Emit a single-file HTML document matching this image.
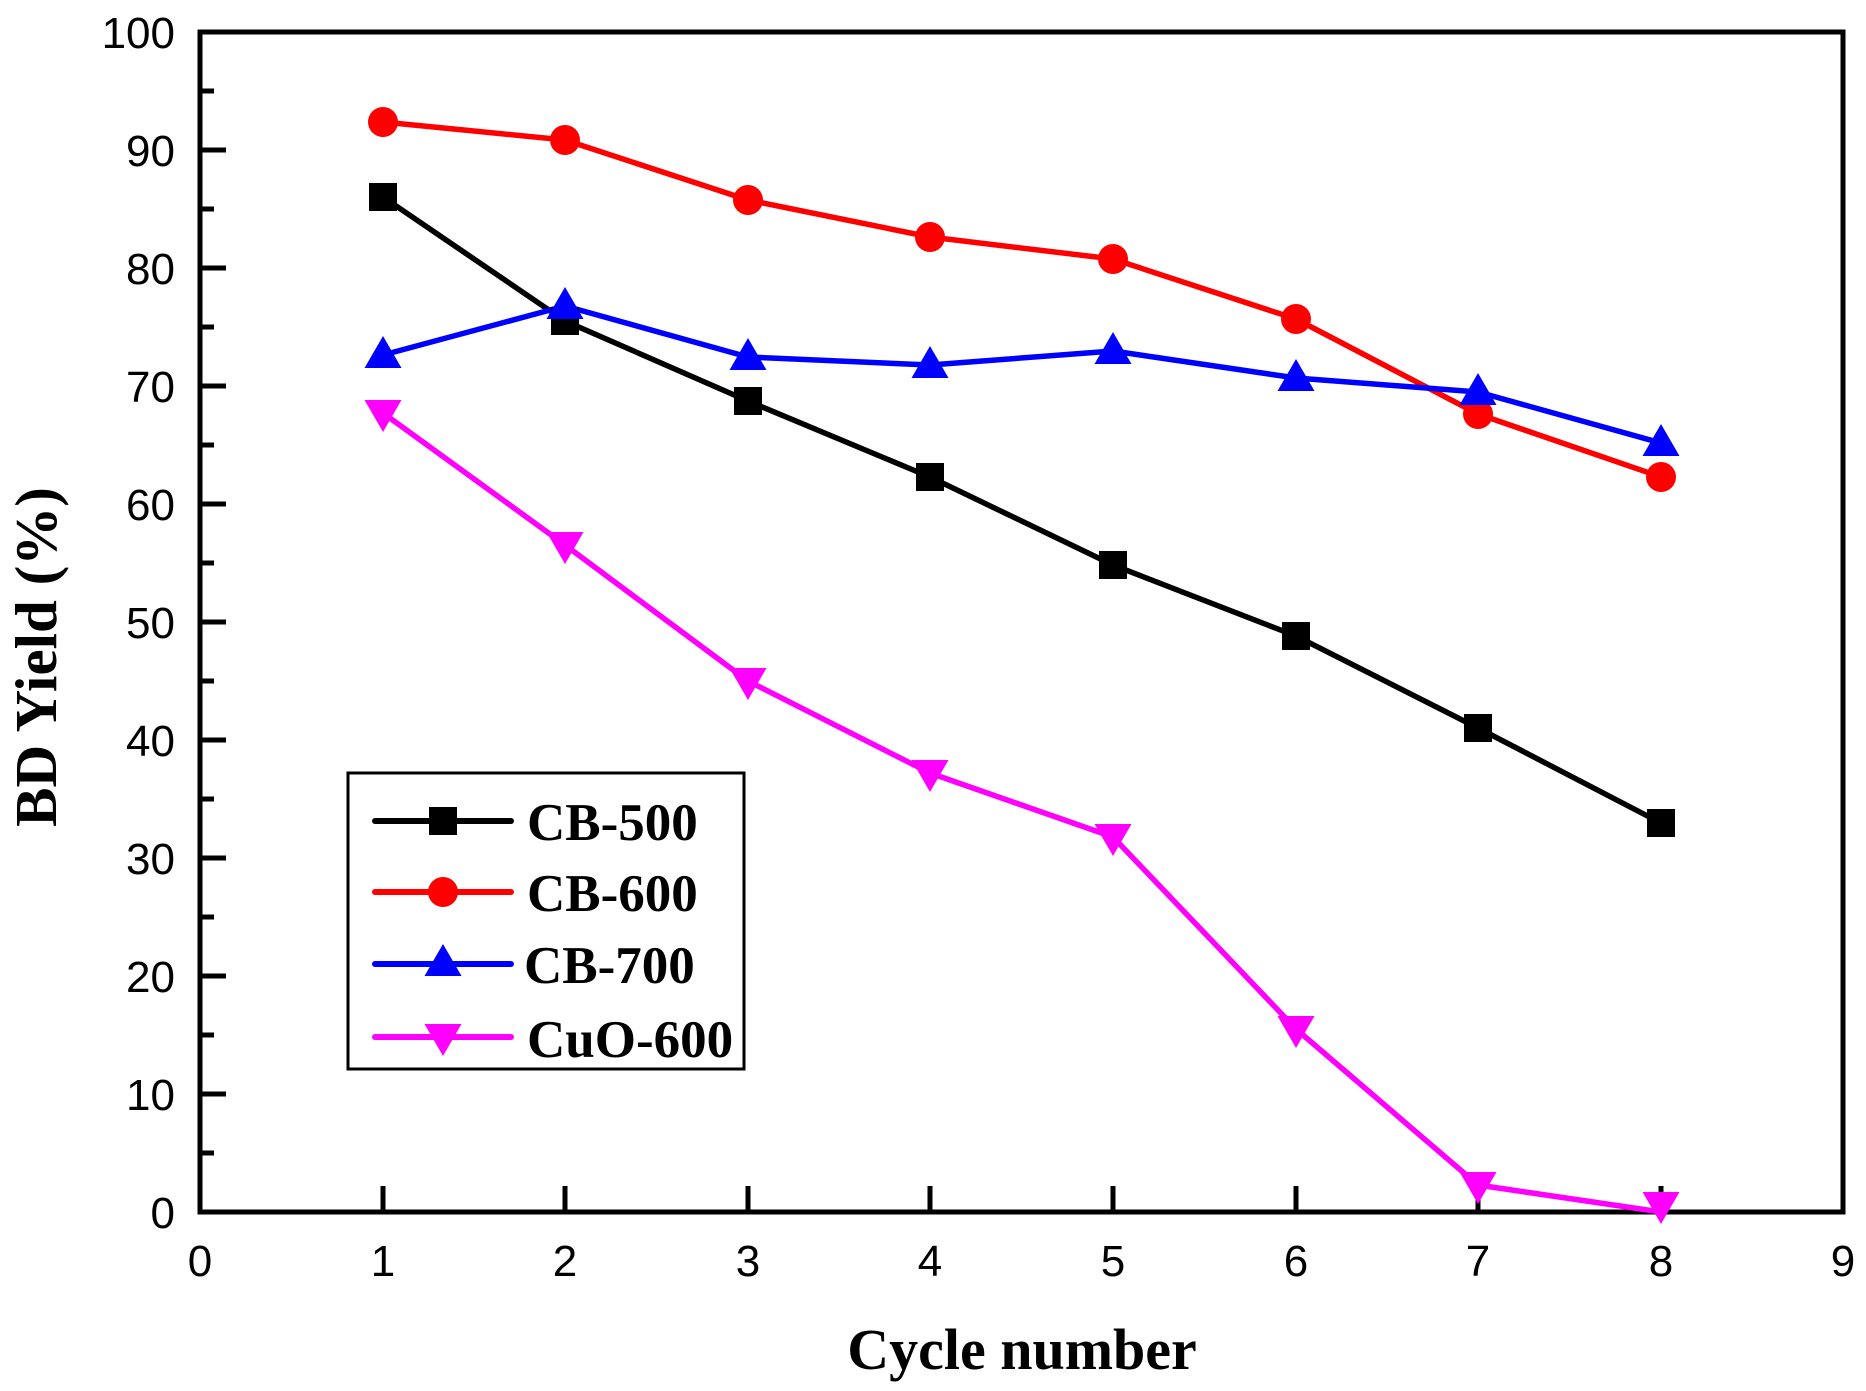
<!DOCTYPE html>
<html><head><style>body{margin:0;background:#fff}svg{display:block}</style></head><body>
<svg width="1866" height="1391" xmlns="http://www.w3.org/2000/svg">
<rect width="1866" height="1391" fill="#fff"/>
<defs>
<rect id="sq" x="-14" y="-14" width="28" height="28" fill="#000"/>
<circle id="ci" r="15" fill="#f00"/>
<polygon id="tu" points="0,-19 18.5,13 -18.5,13" fill="#00f"/>
<polygon id="td" points="0,19 18.5,-13 -18.5,-13" fill="#f0f"/>
</defs>
<g stroke="#000" stroke-width="5">
<rect x="200" y="32" width="1643" height="1180" fill="none"/>
<path d="M383,1212v-26M565,1212v-26M748,1212v-26M930,1212v-26M1113,1212v-26M1296,1212v-26M1478,1212v-26M1661,1212v-26"/>
<path d="M200,1094h26M200,976h26M200,858h26M200,740h26M200,622h26M200,504h26M200,386h26M200,268h26M200,150h26"/>
<path d="M200,1153h14M200,1035h14M200,917h14M200,799h14M200,681h14M200,563h14M200,445h14M200,327h14M200,209h14M200,91h14"/>
</g>
<g font-family="Liberation Sans, sans-serif" font-size="44" fill="#000" text-anchor="end">
<text x="175" y="1228">0</text><text x="175" y="1110">10</text><text x="175" y="992">20</text><text x="175" y="874">30</text><text x="175" y="756">40</text><text x="175" y="638">50</text><text x="175" y="520">60</text><text x="175" y="402">70</text><text x="175" y="284">80</text><text x="175" y="166">90</text><text x="175" y="48">100</text>
</g>
<g font-family="Liberation Sans, sans-serif" font-size="44" fill="#000" text-anchor="middle">
<text x="200" y="1276">0</text><text x="383" y="1276">1</text><text x="565" y="1276">2</text><text x="748" y="1276">3</text><text x="930" y="1276">4</text><text x="1113" y="1276">5</text><text x="1296" y="1276">6</text><text x="1478" y="1276">7</text><text x="1661" y="1276">8</text><text x="1843" y="1276">9</text>
</g>
<text x="1022" y="1369" font-family="Liberation Serif, serif" font-weight="bold" font-size="58" text-anchor="middle">Cycle number</text>
<text transform="translate(56,657) rotate(-90)" font-family="Liberation Serif, serif" font-weight="bold" font-size="59" text-anchor="middle">BD Yield (%)</text>
<g fill="none" stroke-width="5.5" stroke-linejoin="round">
<polyline stroke="#f0f" points="383,413 565,545 748,681 930,773 1113,837 1296,1029 1478,1185 1661,1212"/>
<polyline stroke="#000" points="383,197 565,321 748,401 930,477 1113,565 1296,636 1478,728 1661,823"/>
<polyline stroke="#f00" points="383,122 565,140 748,200 930,237 1113,259 1296,319 1478,414 1661,477"/>
<polyline stroke="#00f" points="383,355 565,306 748,357 930,365 1113,351 1296,378 1478,392 1661,443"/>
</g>
<g>
<use href="#sq" x="383" y="197"/><use href="#sq" x="565" y="321"/><use href="#sq" x="748" y="401"/><use href="#sq" x="930" y="477"/><use href="#sq" x="1113" y="565"/><use href="#sq" x="1296" y="636"/><use href="#sq" x="1478" y="728"/><use href="#sq" x="1661" y="823"/>
<use href="#ci" x="383" y="122"/><use href="#ci" x="565" y="140"/><use href="#ci" x="748" y="200"/><use href="#ci" x="930" y="237"/><use href="#ci" x="1113" y="259"/><use href="#ci" x="1296" y="319"/><use href="#ci" x="1478" y="414"/><use href="#ci" x="1661" y="477"/>
<use href="#tu" x="383" y="355"/><use href="#tu" x="565" y="306"/><use href="#tu" x="748" y="357"/><use href="#tu" x="930" y="365"/><use href="#tu" x="1113" y="351"/><use href="#tu" x="1296" y="378"/><use href="#tu" x="1478" y="392"/><use href="#tu" x="1661" y="443"/>
<use href="#td" x="383" y="413"/><use href="#td" x="565" y="545"/><use href="#td" x="748" y="681"/><use href="#td" x="930" y="773"/><use href="#td" x="1113" y="837"/><use href="#td" x="1296" y="1029"/><use href="#td" x="1478" y="1185"/><use href="#td" x="1661" y="1205"/>
</g>
<rect x="348" y="773" width="396" height="296" fill="none" stroke="#000" stroke-width="3"/>
<g stroke-width="6" stroke-linecap="round">
<line x1="375" y1="821" x2="511" y2="821" stroke="#000"/>
<line x1="375" y1="892" x2="511" y2="892" stroke="#f00"/>
<line x1="375" y1="964" x2="511" y2="964" stroke="#00f"/>
<line x1="375" y1="1037" x2="511" y2="1037" stroke="#f0f"/>
</g>
<use href="#sq" x="443" y="821"/><use href="#ci" x="443" y="892"/><use href="#tu" x="443" y="963"/><use href="#td" x="443" y="1037"/>
<g font-family="Liberation Serif, serif" font-weight="bold" font-size="53" fill="#000">
<text x="527" y="840">CB-500</text><text x="527" y="911">CB-600</text><text x="524" y="983">CB-700</text><text x="527" y="1057">CuO-600</text>
</g>
</svg>
</body></html>
